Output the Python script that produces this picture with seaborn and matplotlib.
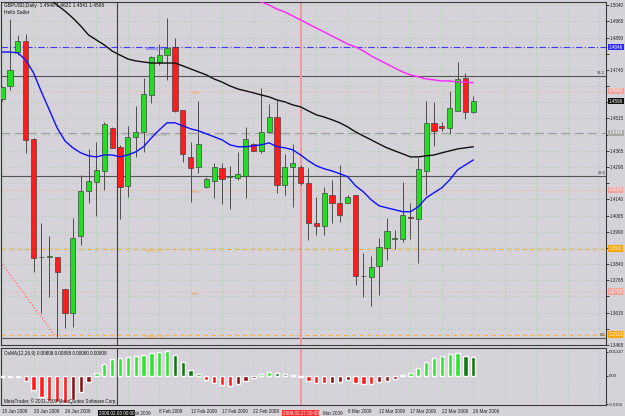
import matplotlib
matplotlib.use("Agg")
import numpy as np
import pandas as pd
import matplotlib.pyplot as plt
import matplotlib.transforms as mtransforms
from matplotlib import font_manager as fm
import seaborn as sns

# ---------------- data ----------------
opens = [1.4606, 1.4666, 1.4823, 1.4874, 1.4421, 1.3874, 1.3872, 1.3874, 1.3726, 1.3615,
         1.3971, 1.4180, 1.4221, 1.4272, 1.4471, 1.4384, 1.4203, 1.4430, 1.4453, 1.4624,
         1.4777, 1.4809, 1.4847, 1.4555, 1.4337, 1.4291, 1.4198, 1.4226, 1.4286, 1.4245,
         1.4240, 1.4249, 1.4397, 1.4365, 1.4453, 1.4522, 1.4208, 1.4291, 1.4291, 1.4217,
         1.4032, 1.4018, 1.4161, 1.4124, 1.4124, 1.4161, 1.3786, 1.3782, 1.3833, 1.3916,
         1.3958, 1.3958, 1.4057, 1.4050, 1.4272, 1.4495, 1.4481, 1.4471, 1.4550, 1.4703,
         1.4546]
highs = [1.4666, 1.4976, 1.4902, 1.4907, 1.4425, 1.4032, 1.3971, 1.3874, 1.3726, 1.4055,
         1.4254, 1.4374, 1.4407, 1.4499, 1.4476, 1.4393, 1.4481, 1.4573, 1.4703, 1.4805,
         1.4860, 1.4981, 1.4888, 1.4555, 1.4407, 1.4596, 1.4245, 1.4309, 1.4309, 1.4296,
         1.4360, 1.4476, 1.4402, 1.4657, 1.4583, 1.4601, 1.4351, 1.4397, 1.4300, 1.4286,
         1.4152, 1.4198, 1.4231, 1.4300, 1.4161, 1.4161, 1.3893, 1.3879, 1.3962, 1.4055,
         1.3999, 1.4221, 1.4124, 1.4333, 1.4596, 1.4592, 1.4499, 1.4643, 1.4777, 1.4726,
         1.4621]
lows = [1.4596, 1.4647, 1.4809, 1.4356, 1.3805, 1.3615, 1.3689, 1.3504, 1.3546, 1.3550,
        1.3930, 1.4124, 1.4064, 1.4184, 1.4379, 1.4050, 1.4152, 1.4337, 1.4360, 1.4587,
        1.4763, 1.4694, 1.4546, 1.4314, 1.4129, 1.4263, 1.4194, 1.4147, 1.4120, 1.4096,
        1.4231, 1.4147, 1.4365, 1.4356, 1.4453, 1.4171, 1.4161, 1.4106, 1.4208, 1.3953,
        1.3976, 1.3976, 1.4032, 1.4036, 1.4124, 1.3745, 1.3689, 1.3647, 1.3698, 1.3860,
        1.3911, 1.3944, 1.3958, 1.3846, 1.4161, 1.4388, 1.4458, 1.4444, 1.4550, 1.4513,
        1.4541]
closes = [1.4661, 1.4740, 1.4874, 1.4416, 1.3870, 1.3872, 1.3876, 1.3805, 1.3615, 1.3962,
          1.4180, 1.4226, 1.4277, 1.4490, 1.4379, 1.4198, 1.4430, 1.4453, 1.4629, 1.4800,
          1.4809, 1.4842, 1.4550, 1.4351, 1.4286, 1.4397, 1.4235, 1.4291, 1.4235, 1.4249,
          1.4259, 1.4421, 1.4365, 1.4453, 1.4522, 1.4208, 1.4291, 1.4309, 1.4217, 1.4032,
          1.4018, 1.4171, 1.4124, 1.4069, 1.4152, 1.3786, 1.3784, 1.3828, 1.3920, 1.3995,
          1.3960, 1.4069, 1.4053, 1.4282, 1.4495, 1.4458, 1.4471, 1.4564, 1.4698, 1.4546,
          1.4596]

# moving averages (blue from bar 0, black from bar 6, magenta from bar 32)
ma_blue = [1.4823, 1.4823, 1.4819, 1.4786, 1.4726, 1.4638, 1.4555, 1.4471, 1.4411, 1.4379,
           1.4356, 1.4342, 1.4337, 1.4346, 1.4346, 1.4337, 1.4346, 1.4360, 1.4384, 1.4425,
           1.4462, 1.4495, 1.4495, 1.4481, 1.4467, 1.4458, 1.4444, 1.4430, 1.4416, 1.4393,
           1.4384, 1.4384, 1.4388, 1.4393, 1.4402, 1.4384, 1.4379, 1.4370, 1.4346, 1.4319,
           1.4296, 1.4282, 1.4272, 1.4259, 1.4245, 1.4203, 1.4175, 1.4138, 1.4110, 1.4101,
           1.4092, 1.4083, 1.4083, 1.4106, 1.4147, 1.4171, 1.4194, 1.4231, 1.4277, 1.4300,
           1.4323]
ma_black = [1.5069, 1.5041, 1.5013, 1.4981, 1.4944, 1.4902, 1.4879, 1.4856, 1.4828, 1.4809,
            1.4791, 1.4782, 1.4777, 1.4772, 1.4772, 1.4772, 1.4772, 1.4759, 1.4745, 1.4731,
            1.4717, 1.4698, 1.4684, 1.4666, 1.4652, 1.4643, 1.4634, 1.4624, 1.4615, 1.4601,
            1.4592, 1.4578, 1.4569, 1.4550, 1.4532, 1.4522, 1.4509, 1.4495, 1.4476, 1.4453,
            1.4434, 1.4416, 1.4397, 1.4379, 1.4365, 1.4351, 1.4337, 1.4337, 1.4342, 1.4346,
            1.4356, 1.4365, 1.4374, 1.4379, 1.4384]
ma_magenta = [1.5069, 1.5055, 1.5041, 1.5022, 1.5009, 1.4990, 1.4972, 1.4953, 1.4934, 1.4916,
              1.4897, 1.4879, 1.4860, 1.4847, 1.4828, 1.4805, 1.4786, 1.4768, 1.4749, 1.4731,
              1.4717, 1.4708, 1.4698, 1.4694, 1.4689, 1.4689, 1.4684, 1.4684, 1.4680]
black_start = 6
magenta_start = 32

# OsMA histogram
osma = [-0.0003, -0.0003, -0.0003, -0.0026, -0.0077, -0.0117, -0.0137, -0.0145, -0.0147, -0.0132,
        -0.0086, -0.0031, 0.0015, 0.0066, 0.0092, 0.0097, 0.0106, 0.0112, 0.0116, 0.0125,
        0.0132, 0.0138, 0.0116, 0.0075, 0.0033, 0.0011, -0.0022, -0.0040, -0.0050, -0.0053,
        -0.0044, -0.0028, -0.0013, 0.0011, 0.0024, 0.0018, 0.0011, 0.0006, -0.0003, -0.0026,
        -0.0040, -0.0041, -0.0037, -0.0035, -0.0022, -0.0040, -0.0046, -0.0047, -0.0035, -0.0026,
        -0.0018, 0.0006, 0.0018, 0.0042, 0.0075, 0.0097, 0.0112, 0.0119, 0.0125, 0.0112,
        0.0103]

# pivot / fibonacci levels
pivot_names = ["Monthly R1", "Monthly Pivot", "Monthly S1", "Monthly S2"]
pivot_values = [1.4846, 1.4448, 1.3911, 1.3513]
mid_names = ["MM4", "MM3", "MM2"]
mid_values = [1.4643, 1.4184, 1.3712]
fib_names = ["38.2", "23.6", "0.0"]
fib_values = [1.4712, 1.4249, 1.3496]
trend_x = [-0.2, 6.8]
trend_y = [1.3851, 1.3504]

price_ticks = [1.3465, 1.3540, 1.3615, 1.3690, 1.3765, 1.3840, 1.3915, 1.3990, 1.4065,
               1.4140, 1.4215, 1.4290, 1.4365, 1.4440, 1.4515, 1.4590, 1.4665, 1.4740,
               1.4815, 1.4890, 1.4965, 1.5040]
date_ticks = [0, 4, 8, 12, 16, 20, 24, 28, 32, 36, 40, 44, 48, 52, 56, 60]
date_labels = ["15 Jan 2009", "20 Jan 2009", "26 Jan 2009", "", "",
               "8 Feb 2009", "12 Feb 2009", "17 Feb 2009", "22 Feb 2009", "",
               "", "8 Mar 2009", "12 Mar 2009", "17 Mar 2009", "22 Mar 2009",
               "26 Mar 2009"]
# label fragments left visible beside the crosshair time boxes
partial_labels = [(16.75, "eb 2009"), (40.9, "Mar 2009")]
osma_ticks = [0.01347, 0.0, -0.0156]
osma_tick_labels = ["0.01347", "0.00", "-0.0156"]
cross_black = (14.6, "2009.02.03 00:00")
cross_red = (38.0, "2009.02.27 00:00")
last_price = 1.4596

title_text = "GBPUSD,Daily  1.4546 1.4621 1.4541 1.4596"
subtitle_text = "Hello Sailor"
osma_text = "OsMA(12,26,9) 0.00808 0.00895 0.00080 0.00808"
copyright_text = "MetaTrader, \u00a9 2001-2009 MetaQuotes Software Corp."

# ---------------- style ----------------
sns.set_theme(style="white")
names = {f.name for f in fm.fontManager.ttflist}
FONT = "Liberation Sans Narrow" if "Liberation Sans Narrow" in names else "Liberation Sans"
plt.rcParams["font.family"] = [FONT, "DejaVu Sans"]
K = 1.0 if FONT.endswith("Narrow") else 0.86

BG = "#d5d2d9"
GRID = "#8fd48f"
GREEN = "#22dd22"
RED = "#ff1c1c"
W, H = 625, 416

fig = plt.figure(figsize=(W / 100, H / 100), dpi=100, facecolor=BG)
ax = fig.add_axes([1 / W, 1 - 345 / H, 605 / W, 343 / H], facecolor=BG)
ax2 = fig.add_axes([1 / W, 1 - 405 / H, 605 / W, 57 / H], facecolor=BG)

idx = np.arange(len(opens))
o, h, l, c = (np.array(v) for v in (opens, highs, lows, closes))
bull = c >= o

# grid
XMIN, XMAX = -0.15, 76.9
grid_x = np.arange(0, 77, 4)
for a in (ax, ax2):
    for gx in grid_x:
        a.axvline(gx, color=GRID, lw=0.6, ls=(0, (1, 3)), zorder=0)
for py in price_ticks:
    ax.axhline(py, color=GRID, lw=0.6, ls=(0, (1, 3)), zorder=0)

# level lines
pivot_styles = [("#3c3cff", (0, (6, 2, 1, 2))), ("#9a9a9a", (0, (8, 4))),
                ("#f5b24a", (0, (4, 3))), ("#f5b24a", (0, (4, 3)))]
for (name, val), (col, ls) in zip(zip(pivot_names, pivot_values), pivot_styles):
    ax.axhline(val, color=col, lw=0.8, ls=ls, zorder=1)
    ax.text(18.3, val, name, fontsize=2.9 * K, color=col, va="top", ha="left", zorder=2)
for name, val in zip(mid_names, mid_values):
    ax.axhline(val, color="#ebb083", lw=0.7, ls=(0, (1, 2)), zorder=1)
    ax.text(24.2, val, name, fontsize=2.9 * K, color="#e9a56f", va="top", ha="left", zorder=2)
for name, val in zip(fib_names, fib_values):
    ax.axhline(val, color="#555555", lw=0.8, zorder=1)
    ax.text(76.8, val + 0.0005, name, fontsize=3.4 * K, color="#303030", ha="right",
            va="bottom", zorder=2)
ax.plot(trend_x, trend_y, color="#ff5a5a", lw=0.8, ls=(0, (1, 2)), zorder=1)

# crosshair / separator lines
for a in (ax, ax2):
    a.axvline(cross_black[0], color="#404040", lw=0.8, zorder=1)
    a.axvline(cross_red[0], color="#ef9a9a", lw=1.4, zorder=1)

# candles
ax.vlines(idx, l, h, color="#4d4d4d", lw=0.7, zorder=3)
body_h = np.maximum(np.abs(c - o), 0.00003)
ax.bar(idx, body_h, bottom=np.minimum(o, c), width=0.66,
       color=np.where(bull, GREEN, RED), edgecolor="#3a3a3a", linewidth=0.45, zorder=4)

# moving averages via seaborn
sns.lineplot(x=idx, y=ma_blue, color="#1010ff", linewidth=1.0, ax=ax, zorder=5,
             estimator=None, sort=False)
sns.lineplot(x=idx[black_start:], y=ma_black, color="#101010", linewidth=1.0, ax=ax,
             zorder=5, estimator=None, sort=False)
sns.lineplot(x=idx[magenta_start:], y=ma_magenta, color="#ff22ff", linewidth=1.0, ax=ax,
             zorder=5, estimator=None, sort=False)

# price boxes on the right axis
box_vals = [pivot_values[0], mid_values[0], last_price, pivot_values[1], mid_values[1],
            pivot_values[2], mid_values[2], pivot_values[3]]
box_bg = ["#2a2aff", "#f2a49c", "#101010", "#a8a8a8", "#f2a49c", "#ffa500", "#f2a49c", "#ffa500"]

ax.set_xlim(XMIN, XMAX)
ax.set_ylim(1.3465, 1.5055)
ax.set_xticks([])
ax.yaxis.tick_right()
ax.set_yticks(price_ticks)
# tick labels hidden under a price box are left blank (the box covers them)
tick_text = ["" if min(abs(p - b) for b in box_vals) < 0.0036 else f"{p:.4f}"
             for p in price_ticks]
ax.set_yticklabels(tick_text)
ax.tick_params(axis="y", direction="out", length=2, width=0.6, pad=1,
               labelsize=3.9 * K, colors="#202020")
ax.set_xlabel("")
ax.set_ylabel("")

blend = mtransforms.blended_transform_factory(ax.transAxes, ax.transData)
for v, bgc in zip(box_vals, box_bg):
    ax.text(1.004, v, f"{v:.4f}", transform=blend, fontsize=3.9 * K, color="white",
            ha="left", va="center", clip_on=False, zorder=10,
            bbox=dict(boxstyle="square,pad=0.18", fc=bgc, ec="none"))

# OsMA histogram via seaborn
diff = np.diff(np.array(osma), prepend=osma[0])
kind = np.where(np.array(osma) >= 0,
                np.where(diff >= 0, "pos_up", "pos_down"),
                np.where(diff <= 0, "neg_down", "neg_up"))
osma_df = pd.DataFrame({"bar": idx, "osma": osma, "kind": kind})
pal = {"pos_up": "#2ee62e", "pos_down": "#0f7a0f", "neg_down": "#ff1c1c", "neg_up": "#8e1414"}
sns.barplot(data=osma_df, x="bar", y="osma", hue="kind", palette=pal, dodge=False,
            native_scale=True, width=0.55, saturation=1, errorbar=None, legend=False,
            ax=ax2, zorder=3)
ax2.set_xlim(XMIN, XMAX)
ax2.set_ylim(-0.0160, 0.0154)
ax2.yaxis.tick_right()
ax2.set_yticks(osma_ticks)
ax2.set_yticklabels(osma_tick_labels)
ax2.set_xticks(date_ticks)
ax2.set_xticklabels(date_labels, ha="left")
ax2.tick_params(axis="y", direction="out", length=1.5, width=0.6, pad=0.5,
                labelsize=3.6 * K, colors="#202020")
ax2.tick_params(axis="x", direction="out", length=2, width=0.6, pad=1,
                labelsize=3.9 * K, colors="#202020")
ax2.set_xlabel("")
ax2.set_ylabel("")

for a in (ax, ax2):
    for s in a.spines.values():
        s.set_color("#3a3a3a")
        s.set_linewidth(0.8)
        s.set_visible(True)

# crosshair time boxes and the label fragments beside them
tblend = mtransforms.blended_transform_factory(ax2.transData, ax2.transAxes)
for (xv, txt), bgc in zip((cross_black, cross_red), ("#101010", "#ff2a2a")):
    ax2.text(xv, -0.1, txt, transform=tblend, fontsize=3.9 * K, color="white",
             ha="center", va="top", clip_on=False, zorder=12,
             bbox=dict(boxstyle="square,pad=0.2", fc=bgc, ec="none"))
for xv, txt in partial_labels:
    ax2.text(xv, -0.1, txt, transform=tblend, fontsize=3.9 * K, color="#202020",
             ha="left", va="top", clip_on=False, zorder=11)

# header / footer texts
fig.text(4 / W, 1 - 5 / H, title_text, fontsize=4.1 * K, color="#101010", va="center")
fig.text(4 / W, 1 - 12 / H, subtitle_text, fontsize=4.1 * K, color="#101010", va="center")
fig.text(4 / W, 1 - 353 / H, osma_text, fontsize=3.9 * K, color="#101010", va="center")
fig.text(4 / W, 1 - 401 / H, copyright_text, fontsize=3.9 * K, color="#101010", va="center")

fig.savefig("out.png", dpi=100, facecolor=BG)
